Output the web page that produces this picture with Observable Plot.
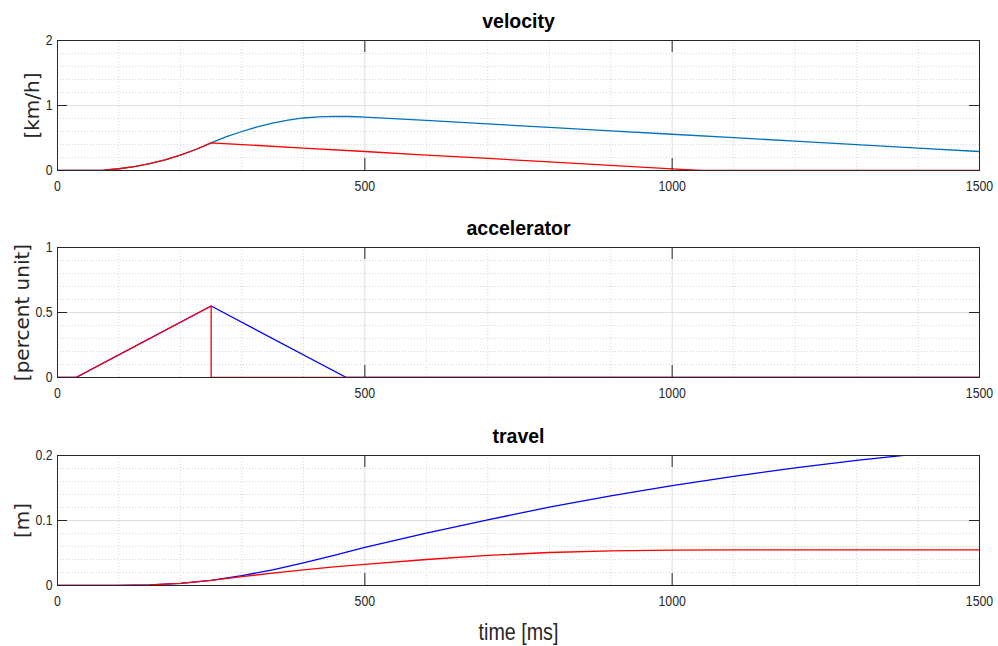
<!DOCTYPE html>
<html>
<head>
<meta charset="utf-8">
<script src="https://cdn.jsdelivr.net/npm/d3@7"></script>
<script src="https://cdn.jsdelivr.net/npm/@observablehq/plot@0.6"></script>
<style>
  html, body { margin: 0; padding: 0; background: #fff; }
  #chart { width: 998px; height: 646px; }
  #chart svg { display: block; overflow: visible; }
</style>
</head>
<body>
<div id="chart"></div>
<script>
// ---------- data ----------
const timeTicks = [0, 500, 1000, 1500];
const timeMinor = [100, 200, 300, 400, 600, 700, 800, 900, 1100, 1200, 1300, 1400];

// velocity [km/h]
const velTime = [0, 50, 75, 100, 125, 150, 175, 200, 225, 250, 275, 300, 325, 350, 375, 400, 425, 450, 475, 500, 600, 700, 800, 900, 1000, 1100, 1200, 1300, 1400, 1500];
const velBlue = [0, 0, 0.007, 0.027, 0.061, 0.107, 0.164, 0.237, 0.323, 0.425, 0.521, 0.60, 0.672, 0.73, 0.776, 0.808, 0.826, 0.834, 0.831, 0.822, 0.77, 0.717, 0.664, 0.611, 0.558, 0.505, 0.452, 0.399, 0.345, 0.292];
const velRedTime = [0, 50, 75, 100, 125, 150, 175, 200, 225, 250, 300, 400, 500, 600, 700, 800, 900, 1000, 1047, 1100, 1500];
const velRed = [0, 0, 0.007, 0.027, 0.061, 0.107, 0.164, 0.237, 0.323, 0.425, 0.399, 0.345, 0.292, 0.238, 0.185, 0.132, 0.078, 0.025, 0, 0, 0];

// accelerator [percent unit]
const accBlueTime = [0, 30, 250, 470, 1500];
const accBlue = [0, 0, 0.55, 0, 0];
const accRedTime = [0, 30, 250, 250, 1500];
const accRed = [0, 0, 0.55, 0, 0];

// travel [m]
const travelTime = [0, 50, 100, 150, 200, 250, 300, 350, 400, 450, 500, 600, 700, 800, 900, 1000, 1100, 1200, 1300, 1400, 1500];
const travelBlue = [0, 0, 0.0001, 0.001, 0.0033, 0.008, 0.0151, 0.024, 0.0348, 0.0465, 0.0585, 0.0805, 0.101, 0.1205, 0.1378, 0.1535, 0.168, 0.181, 0.1925, 0.2025, 0.211];
const travelRed = [0, 0, 0.0001, 0.001, 0.0033, 0.008, 0.0137, 0.019, 0.024, 0.0285, 0.0325, 0.040, 0.0462, 0.0508, 0.0533, 0.0545, 0.0548, 0.0548, 0.0548, 0.0548, 0.0548];

const velTicks = [0, 1, 2];
const velMinor = [0.2, 0.4, 0.6, 0.8, 1.2, 1.4, 1.6, 1.8];
const accTicks = [0, 0.5, 1];
const accMinor = [0.1, 0.2, 0.3, 0.4, 0.6, 0.7, 0.8, 0.9];
const travelTicks = [0, 0.1, 0.2];
const travelMinor = [0.02, 0.04, 0.06, 0.08, 0.12, 0.14, 0.16, 0.18];

// ---------- styling ----------
const W = 998, ML = 57, MR = 19, FRAME_H = 130;
const AXIS = "#262626";
const MAJOR = "#dedede";
const MINOR = "#d6d6d6";
const SANS = "'Liberation Sans', Arial, sans-serif";
const C_VEL_BLUE = "#0072BD", C_BLUE = "#0000FF", C_RED = "#FF0000";

const zip = (ts, vs) => ts.map((t, i) => ({t, v: vs[i]}));

function panel({title, ylabel, labelDx, yDomain, yTicks, yMinor, lines, marginTop, marginBottom, xlabel}) {
  const height = marginTop + FRAME_H + marginBottom;
  const marks = [
    Plot.ruleX(timeMinor, {x: d => d, stroke: MINOR, strokeDasharray: "1,2", strokeWidth: 1}),
    Plot.ruleY(yMinor, {y: d => d, stroke: MINOR, strokeDasharray: "1,2", strokeWidth: 1}),
    Plot.ruleX([500, 1000], {x: d => d, stroke: MAJOR, strokeWidth: 1}),
    Plot.ruleY(yTicks.slice(1, -1), {y: d => d, stroke: MAJOR, strokeWidth: 1}),
  ];
  for (const ln of lines) {
    marks.push(Plot.line(zip(ln.t, ln.v), {x: "t", y: "v", stroke: ln.color, strokeWidth: 1.3, clip: true}));
  }
  marks.push(
    Plot.ruleX([500, 1000], {x: d => d, stroke: AXIS, insetBottom: FRAME_H - 12}),
    Plot.ruleX([500, 1000], {x: d => d, stroke: AXIS, insetTop: FRAME_H - 12}),
    Plot.ruleY(yTicks.slice(1, -1), {y: d => d, stroke: AXIS, insetRight: W - ML - MR - 10}),
    Plot.ruleY(yTicks.slice(1, -1), {y: d => d, stroke: AXIS, insetLeft: W - ML - MR - 10}),
    Plot.frame({stroke: AXIS, strokeWidth: 1}),
    Plot.axisX({ticks: timeTicks, tickSize: 0, tickPadding: 10, tickFormat: d => String(d), label: null,
      fontSize: 15, fontFamily: SANS, fill: AXIS}),
    Plot.axisY({ticks: yTicks, tickSize: 0, tickPadding: 5, tickFormat: d => String(d), label: null,
      fontSize: 15, fontFamily: SANS, fill: AXIS}),
    Plot.text([title], {frameAnchor: "top", lineAnchor: "middle", textAnchor: "middle", dy: -19, text: d => d,
      fontSize: 19.5, fontWeight: "bold", fontFamily: SANS, fill: "#000"}),
    Plot.text([ylabel], {frameAnchor: "left", lineAnchor: "middle", textAnchor: "middle", dx: labelDx, rotate: -90,
      text: d => d, fontSize: 20, fontFamily: "'DejaVu Sans', sans-serif", fill: AXIS})
  );
  if (xlabel) {
    marks.push(Plot.text([xlabel], {frameAnchor: "bottom", lineAnchor: "middle", textAnchor: "middle", dy: 47,
      text: d => d, fontSize: 24, fontFamily: SANS, fill: AXIS}));
  }
  return Plot.plot({
    width: W, height,
    marginLeft: ML, marginRight: MR, marginTop, marginBottom,
    style: {background: "#fff", overflow: "visible"},
    x: {domain: [0, 1500], axis: null},
    y: {domain: yDomain, axis: null},
    marks
  });
}

const specs = [
  {title: "velocity", ylabel: "[km/h]", labelDx: -25, yDomain: [0, 2], yTicks: velTicks, yMinor: velMinor,
   lines: [{t: velTime, v: velBlue, color: C_VEL_BLUE}, {t: velRedTime, v: velRed, color: C_RED}],
   marginTop: 40, marginBottom: 37},
  {title: "accelerator", ylabel: "[percent unit]", labelDx: -35, yDomain: [0, 1], yTicks: accTicks, yMinor: accMinor,
   lines: [{t: accBlueTime, v: accBlue, color: C_BLUE}, {t: accRedTime, v: accRed, color: C_RED}],
   marginTop: 40, marginBottom: 37},
  {title: "travel", ylabel: "[m]", labelDx: -35, yDomain: [0, 0.2], yTicks: travelTicks, yMinor: travelMinor,
   lines: [{t: travelTime, v: travelBlue, color: C_BLUE}, {t: travelTime, v: travelRed, color: C_RED}],
   marginTop: 41, marginBottom: 61, xlabel: "time [ms]"}
];

const chart = document.getElementById("chart");
for (const spec of specs) {
  const svg = panel(spec);
  chart.append(svg);
  // condense tick labels and x label horizontally (Arial Narrow look) via textLength
  const narrow = new Set([...timeTicks, ...spec.yTicks].map(String));
  if (spec.xlabel) narrow.add(spec.xlabel);
  svg.querySelectorAll("text").forEach(t => {
    if (!narrow.has(t.textContent)) return;
    const len = t.getComputedTextLength();
    if (len > 0) {
      t.setAttribute("textLength", (len * 0.82).toFixed(2));
      t.setAttribute("lengthAdjust", "spacingAndGlyphs");
    }
  });
}
</script>
</body>
</html>
